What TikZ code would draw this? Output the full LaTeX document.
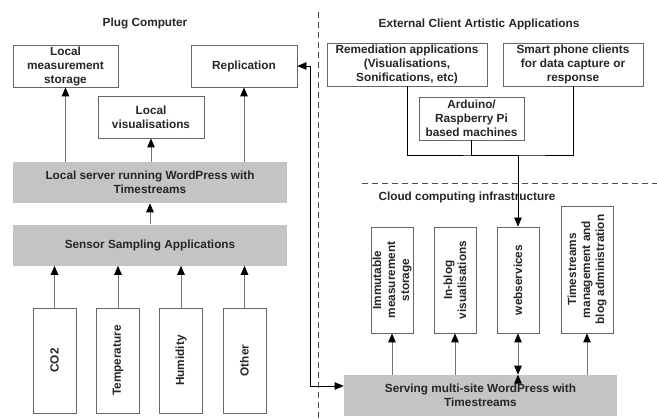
\documentclass[tikz,border=0pt]{standalone}
\usepackage{fontspec}
\setmainfont{Liberation Sans}
\usetikzlibrary{arrows.meta}

\begin{document}
\begin{tikzpicture}[x=1pt, y=-1pt, >={Triangle[length=9pt,width=7.5pt,color=black]}, semithick,
  font=\fontsize{11.8}{14}\selectfont\bfseries, text=black!85]
\tikzstyle{box}=[draw=black!60, fill=white, thick, align=center, inner sep=1pt]
\tikzstyle{bar}=[fill=black!23, align=center, minimum width=274pt, minimum height=41pt]
\tikzstyle{vbox}=[box, rotate=90]
\tikzstyle{link}=[draw=black!55, line width=1pt]
\tikzstyle{ext}=[draw=black, semithick]
\tikzstyle{divider}=[draw=black!70, semithick, dash pattern=on 6pt off 4pt]
\useasboundingbox (0,0) rectangle (657,420);

% plug computer side
\node (plug) at (145,23) {Plug Computer};
\node[box, minimum width=105pt, minimum height=42pt] (lstore) at (65.5,66) {Local\\measurement\\storage};
\node[box, minimum width=106pt, minimum height=42pt] (repl)   at (244,66)  {Replication};
\node[box, minimum width=106pt, minimum height=42pt] (lvis)   at (151,117) {Local\\visualisations};
\node[bar] (server) at (150,182.5) {Local server running WordPress with\\Timestreams};
\node[bar] (sensor) at (150,245) {Sensor Sampling Applications};
\node[vbox, minimum width=105pt, minimum height=43pt] (co2)   at (54.5,360.5) {CO2};
\node[vbox, minimum width=105pt, minimum height=43pt] (temp)  at (118,360.5)  {Temperature};
\node[vbox, minimum width=105pt, minimum height=43pt] (hum)   at (181,360.5)  {Humidity};
\node[vbox, minimum width=105pt, minimum height=43pt] (other) at (244.5,360.5) {Other};

% external clients
\node (extern) at (479,24) {External Client Artistic Applications};
\node[box, minimum width=160pt, minimum height=43pt] (remed) at (407,64.5) {Remediation applications\\(Visualisations,\\Sonifications, etc)};
\node[box, minimum width=140pt, minimum height=43pt] (phone) at (573,64.5) {Smart phone clients\\for data capture or\\response};
\node[box, minimum width=105pt, minimum height=43pt] (ardu)  at (471.5,118.5) {Arduino/\\Raspberry Pi\\based machines};

% cloud
\node (cloud) at (467,197) {Cloud computing infrastructure};
\node[vbox, minimum width=106pt, minimum height=42pt] (immut)  at (392,280) {Immutable\\measurement\\storage};
\node[vbox, minimum width=106pt, minimum height=42pt] (inblog) at (455,280) {In-blog\\visualisations};
\node[vbox, minimum width=106pt, minimum height=42pt] (websv)  at (518,280) {webservices};
\node[vbox, minimum width=127pt, minimum height=52pt] (tsm)    at (587,269.5) {Timestreams\\management and\\blog administration};
\node[bar, minimum width=273pt] (serving) at (480.5,395.5) {Serving multi-site WordPress with\\Timestreams};

\coordinate (vtop) at (318,12);
\coordinate (vbot) at (318,420);
\coordinate (hleft) at (362,183);
\coordinate (hright) at (657,183);
\coordinate (bend) at (310,386);
\coordinate (join) at (518,155);

\draw[divider] (vtop) -- (vbot);
\draw[divider] (hleft) -- (hright);

\path[->, link]
(server.north -| lstore.south) edge (lstore.south)
(server.north -| lvis.south)   edge (lvis.south)
(server.north -| repl.south)   edge (repl.south)
(sensor.north) edge (server.south)
(co2.east)   edge (co2.east |- sensor.south)
(temp.east)  edge (temp.east |- sensor.south)
(hum.east)   edge (hum.east |- sensor.south)
(other.east) edge (other.east |- sensor.south)
(serving.north -| immut.west)  edge (immut.west)
(serving.north -| inblog.west) edge (inblog.west)
(serving.north -| tsm.west)    edge (tsm.west)
(serving.north -| websv.west)  edge[<->] (websv.west);

\draw[ext] (remed.south) |- (join) -| (phone.south);
\draw[ext] (ardu.south) |- (join);
\draw[ext, ->] (join) -- (websv.east);
\draw[ext, <->] (repl.east) -| (bend) -- (serving.west |- bend);

\end{tikzpicture}
\end{document}
